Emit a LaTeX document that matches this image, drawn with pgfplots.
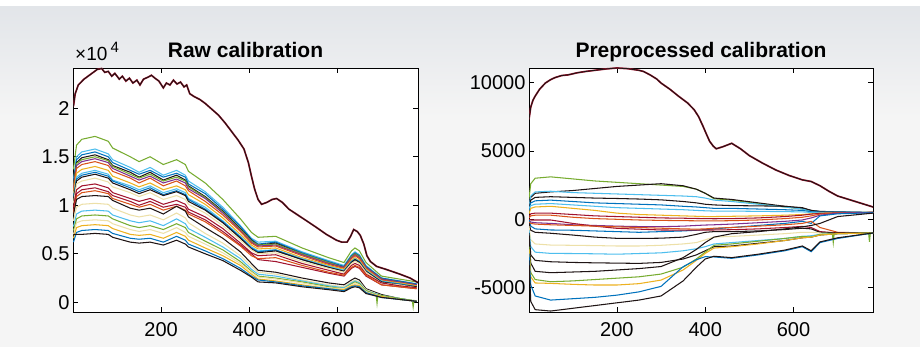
\documentclass[border=0pt]{standalone}
\usepackage{fontspec}
\setmainfont{Liberation Sans}
\usepackage{pgfplots}
\pgfplotsset{compat=1.18}
\definecolor{mb}{rgb}{0,0.447,0.741}
\definecolor{mo}{rgb}{0.85,0.325,0.098}
\definecolor{my}{rgb}{0.929,0.694,0.125}
\definecolor{mp}{rgb}{0.494,0.184,0.556}
\definecolor{mg}{rgb}{0.466,0.674,0.188}
\definecolor{mc}{rgb}{0.301,0.745,0.933}
\definecolor{mr}{rgb}{0.635,0.078,0.184}
\definecolor{dk}{rgb}{0.12,0.08,0.08}
\definecolor{bg}{rgb}{0.93,0.88,0.66}
\definecolor{bgA}{RGB}{226,229,233}
\definecolor{bgB}{RGB}{245,245,245}
\pgfplotsset{mstyle/.style={scale only axis, height=244pt, anchor=south west,
  axis background/.style={fill=white},
  tick label style={font=\fontsize{20}{22}\selectfont},
  major tick length=5pt, tick style={black, line width=0.6pt},
  axis line style={line width=0.9pt},
  xtick={200,400,600}, xticklabels={200,400,600},
  xticklabel style={yshift=-7pt},
  scaled y ticks=false, no markers,
  every axis plot/.append style={line width=1.05pt}}}
\begin{document}
\begin{tikzpicture}
\useasboundingbox (0,0) rectangle (920pt,347pt);
\fill[bgB] (0,0) rectangle (920pt,347pt);
\shade[top color=bgA, bottom color=bgB] (0,230pt) rectangle (920pt,341pt);
\fill[white] (0,341pt) rectangle (920pt,347pt);
\node[anchor=base, font=\fontsize{21}{23}\selectfont\bfseries] at (245.5pt,289pt) {Raw calibration};
\node[anchor=base, font=\fontsize{21}{23}\selectfont\bfseries] at (701pt,289pt) {Preprocessed calibration};
\node[anchor=base west, inner sep=0pt, font=\fontsize{19}{21}\selectfont] at (75pt,286pt) {×10\,\raisebox{8pt}{\fontsize{15}{16}\selectfont 4}};
\begin{axis}[mstyle, at={(73pt,35pt)}, width=345pt, xmin=0, xmax=783, ymin=-0.1, ymax=2.415,
  ytick={0,0.5,1,1.5,2}, yticklabels={0,0.5,1,1.5,2}]
\addplot[mg] coordinates {(1,1.37)(8,1.62)(20,1.68)(50,1.71)(80,1.66)(90,1.59)(130,1.50)(150,1.45)(175,1.50)(205,1.42)(235,1.47)(255,1.42)(262,1.35)(300,1.23)(340,1.06)(380,0.86)(405,0.72)(420,0.67)(460,0.68)(520,0.56)(580,0.46)(615,0.41)(632,0.53)(640,0.56)(650,0.53)(665,0.41)(700,0.27)(740,0.24)(780,0.21)};
\addplot[mc] coordinates {(1,1.26)(8,1.50)(20,1.55)(50,1.58)(80,1.53)(90,1.47)(130,1.39)(150,1.34)(175,1.39)(205,1.31)(235,1.36)(255,1.31)(262,1.25)(300,1.14)(340,0.98)(380,0.79)(405,0.66)(420,0.62)(460,0.63)(520,0.52)(580,0.43)(615,0.38)(632,0.49)(640,0.52)(650,0.49)(665,0.38)(700,0.25)(740,0.22)(780,0.19)};
\addplot[mb] coordinates {(1,1.24)(8,1.47)(20,1.52)(50,1.55)(80,1.50)(90,1.44)(130,1.36)(150,1.32)(175,1.36)(205,1.29)(235,1.33)(255,1.29)(262,1.22)(300,1.12)(340,0.96)(380,0.78)(405,0.65)(420,0.60)(460,0.62)(520,0.51)(580,0.42)(615,0.37)(632,0.48)(640,0.51)(650,0.48)(665,0.37)(700,0.25)(740,0.22)(780,0.19)};
\addplot[dk] coordinates {(1,1.22)(8,1.44)(20,1.49)(50,1.52)(80,1.47)(90,1.41)(130,1.34)(150,1.29)(175,1.34)(205,1.26)(235,1.31)(255,1.26)(262,1.20)(300,1.09)(340,0.94)(380,0.76)(405,0.64)(420,0.59)(460,0.61)(520,0.50)(580,0.41)(615,0.36)(632,0.47)(640,0.50)(650,0.47)(665,0.36)(700,0.24)(740,0.21)(780,0.18)};
\addplot[mg] coordinates {(1,1.20)(8,1.43)(20,1.47)(50,1.50)(80,1.46)(90,1.40)(130,1.32)(150,1.28)(175,1.32)(205,1.25)(235,1.29)(255,1.25)(262,1.19)(300,1.08)(340,0.93)(380,0.75)(405,0.63)(420,0.59)(460,0.60)(520,0.50)(580,0.41)(615,0.36)(632,0.47)(640,0.50)(650,0.47)(665,0.36)(700,0.24)(740,0.21)(780,0.18)};
\addplot[mp] coordinates {(1,1.18)(8,1.41)(20,1.45)(50,1.48)(80,1.44)(90,1.38)(130,1.30)(150,1.26)(175,1.30)(205,1.23)(235,1.27)(255,1.23)(262,1.17)(300,1.07)(340,0.92)(380,0.74)(405,0.62)(420,0.58)(460,0.59)(520,0.49)(580,0.40)(615,0.36)(632,0.46)(640,0.49)(650,0.46)(665,0.36)(700,0.24)(740,0.21)(780,0.18)};
\addplot[mo] coordinates {(1,1.16)(8,1.38)(20,1.42)(50,1.45)(80,1.41)(90,1.35)(130,1.28)(150,1.23)(175,1.28)(205,1.20)(235,1.25)(255,1.20)(262,1.15)(300,1.04)(340,0.90)(380,0.73)(405,0.61)(420,0.57)(460,0.58)(520,0.48)(580,0.39)(615,0.35)(632,0.45)(640,0.48)(650,0.45)(665,0.35)(700,0.23)(740,0.20)(780,0.17)};
\addplot[my] coordinates {(1,1.12)(8,1.33)(20,1.37)(50,1.40)(80,1.36)(90,1.30)(130,1.23)(150,1.19)(175,1.23)(205,1.16)(235,1.20)(255,1.16)(262,1.11)(300,1.01)(340,0.87)(380,0.70)(405,0.59)(420,0.55)(460,0.56)(520,0.46)(580,0.38)(615,0.34)(632,0.43)(640,0.46)(650,0.43)(665,0.34)(700,0.22)(740,0.20)(780,0.17)};
\addplot[mc] coordinates {(1,1.09)(8,1.29)(20,1.33)(50,1.36)(80,1.32)(90,1.26)(130,1.20)(150,1.16)(175,1.20)(205,1.13)(235,1.17)(255,1.13)(262,1.07)(300,0.98)(340,0.84)(380,0.68)(405,0.57)(420,0.53)(460,0.54)(520,0.45)(580,0.37)(615,0.33)(632,0.42)(640,0.45)(650,0.42)(665,0.33)(700,0.22)(740,0.19)(780,0.16)};
\addplot[mb] coordinates {(1,1.07)(8,1.27)(20,1.31)(50,1.34)(80,1.30)(90,1.25)(130,1.18)(150,1.14)(175,1.18)(205,1.11)(235,1.15)(255,1.11)(262,1.06)(300,0.96)(340,0.83)(380,0.67)(405,0.56)(420,0.52)(460,0.54)(520,0.44)(580,0.36)(615,0.32)(632,0.42)(640,0.44)(650,0.42)(665,0.32)(700,0.21)(740,0.19)(780,0.16)};
\addplot[dk] coordinates {(1,1.06)(8,1.25)(20,1.29)(50,1.32)(80,1.28)(90,1.23)(130,1.16)(150,1.12)(175,1.16)(205,1.10)(235,1.14)(255,1.10)(262,1.04)(300,0.95)(340,0.82)(380,0.66)(405,0.55)(420,0.51)(460,0.53)(520,0.44)(580,0.36)(615,0.32)(632,0.41)(640,0.44)(650,0.41)(665,0.32)(700,0.21)(740,0.18)(780,0.16)};
\addplot[bg] coordinates {(1,1.02)(8,1.22)(20,1.25)(50,1.28)(80,1.24)(90,1.19)(130,1.13)(150,1.09)(175,1.13)(205,1.06)(235,1.10)(255,1.06)(262,1.01)(300,0.92)(340,0.79)(380,0.64)(405,0.54)(420,0.50)(460,0.51)(520,0.42)(580,0.35)(615,0.31)(632,0.40)(640,0.42)(650,0.40)(665,0.31)(700,0.20)(740,0.18)(780,0.15)};
\addplot[mr] coordinates {(1,0.98)(8,1.16)(20,1.20)(50,1.22)(80,1.18)(90,1.13)(130,1.07)(150,1.04)(175,1.07)(205,1.01)(235,1.05)(255,1.01)(262,0.96)(300,0.88)(340,0.76)(380,0.61)(405,0.51)(420,0.48)(460,0.49)(520,0.40)(580,0.33)(615,0.29)(632,0.38)(640,0.40)(650,0.38)(665,0.29)(700,0.20)(740,0.17)(780,0.15)};
\addplot[mr] coordinates {(1,0.94)(8,1.12)(20,1.16)(50,1.18)(80,1.14)(90,1.10)(130,1.04)(150,1.00)(175,1.04)(205,0.98)(235,1.01)(255,0.98)(262,0.93)(300,0.85)(340,0.73)(380,0.59)(405,0.50)(420,0.44)(460,0.42)(520,0.36)(580,0.30)(615,0.27)(632,0.35)(640,0.37)(650,0.35)(665,0.27)(700,0.18)(740,0.16)(780,0.14)};
\addplot[mo] coordinates {(1,0.92)(8,1.09)(20,1.13)(50,1.15)(80,1.12)(90,1.07)(130,1.01)(150,0.98)(175,1.01)(205,0.95)(235,0.99)(255,0.95)(262,0.91)(300,0.83)(340,0.71)(380,0.58)(405,0.48)(420,0.45)(460,0.46)(520,0.38)(580,0.31)(615,0.28)(632,0.36)(640,0.38)(650,0.36)(665,0.28)(700,0.18)(740,0.16)(780,0.14)};
\addplot[dk] coordinates {(1,0.90)(8,1.06)(20,1.09)(50,1.10)(80,1.09)(90,1.05)(130,0.97)(150,0.95)(175,0.97)(205,0.91)(235,0.99)(255,0.94)(262,0.88)(300,0.77)(340,0.66)(380,0.52)(405,0.40)(420,0.33)(460,0.31)(520,0.25)(580,0.20)(615,0.18)(632,0.23)(640,0.25)(650,0.23)(665,0.14)(700,0.08)(740,0.04)(780,0.01)};
\addplot[bg] coordinates {(1,0.84)(8,0.98)(20,1.01)(50,1.02)(80,1.01)(90,0.97)(130,0.90)(150,0.88)(175,0.90)(205,0.85)(235,0.92)(255,0.87)(262,0.82)(300,0.71)(340,0.61)(380,0.48)(405,0.37)(420,0.31)(460,0.29)(520,0.23)(580,0.18)(615,0.16)(632,0.21)(640,0.23)(650,0.21)(665,0.13)(700,0.07)(740,0.04)(780,0.01)};
\addplot[mc] coordinates {(1,0.78)(8,0.91)(20,0.94)(50,0.95)(80,0.94)(90,0.90)(130,0.84)(150,0.82)(175,0.84)(205,0.79)(235,0.86)(255,0.81)(262,0.76)(300,0.67)(340,0.57)(380,0.45)(405,0.34)(420,0.29)(460,0.27)(520,0.22)(580,0.17)(615,0.15)(632,0.20)(640,0.22)(650,0.20)(665,0.12)(700,0.07)(740,0.04)(780,0.01)};
\addplot[mg] coordinates {(1,0.74)(8,0.86)(20,0.89)(50,0.90)(80,0.89)(90,0.86)(130,0.79)(150,0.77)(175,0.79)(205,0.75)(235,0.81)(255,0.77)(262,0.72)(300,0.63)(340,0.54)(380,0.42)(405,0.32)(420,0.27)(460,0.25)(520,0.21)(580,0.16)(615,0.14)(632,0.19)(640,0.21)(650,0.19)(665,0.12)(688,0.08)(690,-0.01)(692,0.08)(700,0.07)(740,0.04)(770,0.02)(772,-0.05)(774,0.02)(780,0.01)};
\addplot[bg] coordinates {(1,0.70)(8,0.82)(20,0.84)(50,0.85)(80,0.84)(90,0.81)(130,0.75)(150,0.73)(175,0.75)(205,0.71)(235,0.77)(255,0.72)(262,0.68)(300,0.60)(340,0.51)(380,0.40)(405,0.31)(420,0.26)(460,0.24)(520,0.20)(580,0.15)(615,0.14)(632,0.18)(640,0.20)(650,0.18)(665,0.11)(700,0.06)(740,0.03)(780,0.01)};
\addplot[my] coordinates {(1,0.66)(8,0.77)(20,0.79)(50,0.80)(80,0.79)(90,0.76)(130,0.70)(150,0.69)(175,0.70)(205,0.66)(235,0.72)(255,0.68)(262,0.64)(300,0.56)(340,0.48)(380,0.38)(405,0.29)(420,0.24)(460,0.22)(520,0.18)(580,0.14)(615,0.13)(632,0.17)(640,0.18)(650,0.17)(665,0.10)(700,0.06)(740,0.03)(780,0.01)};
\addplot[mb] coordinates {(1,0.62)(8,0.72)(20,0.74)(50,0.75)(80,0.74)(90,0.71)(130,0.66)(150,0.65)(175,0.66)(205,0.62)(235,0.68)(255,0.64)(262,0.60)(300,0.53)(340,0.45)(380,0.35)(405,0.27)(420,0.23)(460,0.21)(520,0.17)(580,0.14)(615,0.12)(632,0.16)(640,0.17)(650,0.16)(665,0.10)(700,0.05)(740,0.03)(780,0.01)};
\addplot[dk] coordinates {(1,0.70)(8,0.70)(20,0.70)(50,0.71)(80,0.70)(90,0.67)(130,0.62)(150,0.61)(175,0.62)(205,0.59)(235,0.64)(255,0.60)(262,0.57)(300,0.50)(340,0.43)(380,0.33)(405,0.26)(420,0.21)(460,0.20)(520,0.16)(580,0.13)(615,0.11)(632,0.15)(640,0.16)(650,0.15)(665,0.09)(700,0.05)(740,0.03)(780,0.01)};
\addplot[mr, line width=1.7pt] coordinates {(1,2.02)(5,2.15)(12,2.24)(25,2.30)(40,2.35)(55,2.40)(65,2.41)(72,2.37)(80,2.38)(88,2.33)(95,2.36)(105,2.30)(112,2.33)(120,2.28)(128,2.31)(136,2.26)(145,2.29)(152,2.24)(160,2.30)(170,2.32)(178,2.34)(186,2.31)(195,2.28)(205,2.21)(212,2.26)(220,2.24)(228,2.29)(236,2.25)(244,2.27)(252,2.22)(258,2.24)(265,2.15)(275,2.12)(288,2.09)(300,2.05)(315,1.99)(330,1.93)(345,1.85)(360,1.76)(375,1.67)(388,1.58)(398,1.44)(405,1.30)(412,1.17)(420,1.06)(428,1.01)(440,1.03)(452,1.06)(462,1.07)(475,1.03)(490,0.96)(510,0.90)(530,0.84)(553,0.77)(575,0.70)(598,0.64)(610,0.62)(622,0.62)(630,0.68)(637,0.75)(645,0.73)(652,0.69)(660,0.60)(667,0.48)(675,0.42)(689,0.37)(710,0.34)(742,0.29)(765,0.25)(784,0.20)};
\addplot[dk, line width=0.9pt] coordinates {(1,2.02)(5,2.15)(12,2.24)(25,2.30)(40,2.35)(55,2.40)(65,2.41)(72,2.37)(80,2.38)(88,2.33)(95,2.36)(105,2.30)(112,2.33)(120,2.28)(128,2.31)(136,2.26)(145,2.29)(152,2.24)(160,2.30)(170,2.32)(178,2.34)(186,2.31)(195,2.28)(205,2.21)(212,2.26)(220,2.24)(228,2.29)(236,2.25)(244,2.27)(252,2.22)(258,2.24)(265,2.15)(275,2.12)(288,2.09)(300,2.05)(315,1.99)(330,1.93)(345,1.85)(360,1.76)(375,1.67)(388,1.58)(398,1.44)(405,1.30)(412,1.17)(420,1.06)(428,1.01)(440,1.03)(452,1.06)(462,1.07)(475,1.03)(490,0.96)(510,0.90)(530,0.84)(553,0.77)(575,0.70)(598,0.64)(610,0.62)(622,0.62)(630,0.68)(637,0.75)(645,0.73)(652,0.69)(660,0.60)(667,0.48)(675,0.42)(689,0.37)(710,0.34)(742,0.29)(765,0.25)(784,0.20)};
\end{axis}
\begin{axis}[mstyle, at={(529pt,35pt)}, width=344pt, xmin=1, xmax=780, ymin=-6770, ymax=11050,
  ytick={-5000,0,5000,10000}, yticklabels={-5000,0,5000,10000}]
\addplot[mg] coordinates {(1,1500)(5,2600)(15,3000)(50,3100)(100,2950)(150,2800)(200,2700)(250,2600)(300,2500)(350,2400)(380,2200)(400,1900)(420,1500)(460,1400)(520,1150)(580,900)(620,750)(640,600)(660,550)(700,520)(780,500)};
\addplot[dk] coordinates {(1,1200)(5,1600)(15,1900)(50,2000)(100,2100)(150,2250)(200,2400)(250,2500)(300,2600)(350,2450)(380,2200)(400,1900)(420,1550)(460,1450)(520,1200)(580,950)(620,800)(640,650)(660,580)(700,540)(780,500)};
\addplot[mc] coordinates {(1,900)(5,1700)(15,2000)(50,2050)(100,1950)(150,1900)(200,1850)(250,1800)(300,1750)(350,1700)(380,1650)(400,1550)(420,1400)(460,1300)(520,1100)(580,900)(620,750)(640,620)(660,560)(700,520)(780,480)};
\addplot[dk] coordinates {(1,700)(5,1400)(15,1600)(50,1650)(100,1600)(150,1550)(200,1520)(250,1480)(300,1420)(350,1300)(380,1200)(400,1100)(420,1050)(460,1000)(520,980)(580,950)(620,850)(640,650)(660,560)(700,520)(780,480)};
\addplot[mb] coordinates {(1,600)(5,1200)(15,1350)(50,1400)(100,1300)(150,1200)(200,1150)(250,1100)(300,1050)(350,950)(380,900)(400,850)(420,800)(460,800)(520,750)(580,700)(620,650)(640,550)(660,530)(700,520)(780,500)};
\addplot[mc] coordinates {(1,800)(5,1000)(15,1100)(50,1150)(100,1050)(150,950)(200,850)(250,800)(300,750)(350,700)(380,650)(400,620)(420,600)(460,600)(520,580)(580,560)(620,540)(640,500)(660,500)(700,500)(780,500)};
\addplot[my] coordinates {(1,400)(5,800)(15,900)(50,950)(100,800)(150,650)(200,450)(250,350)(300,300)(350,250)(380,220)(400,200)(420,200)(460,220)(520,250)(580,300)(620,350)(640,400)(660,450)(700,480)(780,500)};
\addplot[mr] coordinates {(1,200)(5,400)(15,450)(50,450)(100,350)(150,250)(200,200)(250,150)(300,100)(350,80)(380,60)(400,50)(420,40)(460,50)(520,100)(580,200)(620,300)(640,380)(660,430)(700,470)(780,500)};
\addplot[mo] coordinates {(1,100)(5,250)(15,300)(50,300)(100,150)(150,50)(200,0)(250,-50)(300,-80)(350,-100)(380,-110)(400,-120)(420,-120)(460,-100)(520,-50)(580,50)(620,150)(640,250)(660,380)(700,460)(780,500)};
\addplot[mp] coordinates {(1,-100)(5,-200)(15,-250)(50,-300)(100,-400)(150,-450)(200,-500)(250,-530)(300,-540)(350,-500)(380,-450)(400,-420)(420,-400)(460,-350)(520,-250)(580,-150)(620,-50)(640,100)(660,300)(700,450)(780,500)};
\addplot[mb] coordinates {(1,0)(5,-500)(15,-700)(50,-780)(100,-800)(150,-850)(200,-900)(250,-950)(300,-900)(350,-850)(380,-800)(400,-750)(420,-700)(460,-600)(520,-450)(580,-300)(620,-150)(640,-300)(660,250)(700,400)(780,480)};
\addplot[mr] coordinates {(1,0)(5,-50)(15,-50)(50,-50)(100,-300)(150,-500)(200,-660)(250,-720)(300,-780)(350,-790)(380,-790)(400,-780)(420,-780)(460,-760)(520,-700)(580,-600)(620,-520)(640,-600)(660,-900)(700,-1000)(780,-1000)};
\addplot[mo] coordinates {(1,-200)(5,-300)(15,-350)(50,-400)(100,-450)(150,-500)(200,-550)(250,-600)(300,-650)(350,-700)(380,-720)(400,-700)(420,-650)(460,-600)(520,-500)(580,-400)(620,-300)(640,-150)(660,-600)(700,-950)(780,-1000)};
\addplot[dk] coordinates {(1,-300)(5,-800)(15,-950)(50,-1020)(100,-1150)(150,-1300)(200,-1390)(250,-1400)(300,-1380)(350,-1300)(380,-1100)(400,-950)(420,-900)(460,-900)(520,-850)(580,-750)(620,-650)(640,-700)(660,-950)(700,-1000)(780,-1000)};
\addplot[bg] coordinates {(1,-500)(5,-1500)(15,-1800)(50,-1880)(100,-1900)(150,-1920)(200,-1950)(250,-1950)(300,-1900)(350,-1800)(380,-1700)(400,-1500)(420,-1300)(460,-1250)(520,-1150)(580,-1050)(620,-950)(640,-950)(660,-1000)(700,-1050)(780,-1050)};
\addplot[mc] coordinates {(1,-800)(5,-2000)(15,-2400)(50,-2490)(100,-2500)(150,-2520)(200,-2550)(250,-2500)(300,-2450)(350,-2300)(380,-2150)(400,-2000)(420,-1800)(460,-1700)(520,-1550)(580,-1400)(620,-1250)(640,-1200)(660,-1100)(700,-1050)(780,-1000)};
\addplot[dk] coordinates {(1,-1000)(5,-2600)(15,-3000)(50,-3100)(100,-3150)(150,-3180)(200,-3200)(250,-3220)(300,-3150)(350,-2900)(380,-2600)(400,-2300)(420,-2000)(460,-1950)(520,-1750)(580,-1550)(620,-1350)(640,-1300)(660,-1150)(700,-1050)(780,-1000)};
\addplot[dk] coordinates {(1,-1500)(5,-3200)(15,-3800)(50,-3900)(100,-3850)(150,-3800)(200,-3700)(250,-3600)(300,-3450)(350,-2800)(380,-2200)(400,-1700)(420,-1300)(460,-1050)(520,-900)(580,-700)(620,-550)(640,-450)(660,-300)(700,200)(780,450)};
\addplot[mg] coordinates {(1,-2000)(5,-3900)(15,-4400)(50,-4560)(100,-4500)(150,-4400)(200,-4300)(250,-4200)(300,-4000)(350,-3500)(380,-2900)(400,-2400)(420,-1900)(460,-1800)(520,-1600)(580,-1400)(620,-1250)(640,-1300)(660,-1100)(688,-1060)(690,-1700)(692,-1060)(700,-1050)(770,-1000)(772,-1650)(774,-1000)(780,-1000)};
\addplot[my] coordinates {(1,-2200)(5,-4200)(15,-4650)(50,-4680)(100,-4750)(150,-4800)(200,-4800)(250,-4700)(300,-4440)(350,-3700)(380,-3000)(400,-2490)(420,-2100)(460,-2000)(520,-1800)(580,-1550)(620,-1350)(640,-1300)(660,-1150)(700,-1050)(780,-1000)};
\addplot[mb] coordinates {(1,-2500)(5,-4800)(15,-5600)(50,-5900)(100,-5800)(150,-5700)(200,-5540)(250,-5300)(300,-4900)(350,-3460)(380,-2950)(400,-2730)(420,-2750)(460,-2850)(520,-2600)(580,-2300)(620,-2000)(640,-2370)(660,-1700)(700,-1400)(780,-1000)};
\addplot[dk] coordinates {(1,-3000)(5,-6000)(15,-6600)(50,-6700)(100,-6500)(150,-6300)(200,-6100)(250,-5900)(300,-5600)(350,-4500)(380,-3500)(400,-2900)(420,-2700)(460,-2800)(520,-2550)(580,-2250)(620,-1950)(640,-2300)(660,-1650)(700,-1350)(780,-1000)};
\addplot[mr, line width=1.7pt] coordinates {(1,7300)(5,8200)(10,8700)(15,9000)(25,9500)(38,9950)(50,10200)(60,10350)(75,10500)(90,10550)(110,10700)(130,10800)(150,10880)(175,10980)(200,11050)(225,11000)(250,10880)(260,10800)(275,10550)(290,10250)(300,9950)(320,9500)(340,8980)(360,8500)(375,8000)(385,7500)(395,6800)(403,6200)(410,5700)(418,5350)(425,5150)(440,5300)(460,5550)(480,5150)(500,4650)(530,4100)(560,3600)(590,3200)(620,2880)(640,2760)(660,2450)(680,2050)(700,1700)(740,1300)(780,900)};
\addplot[dk, line width=0.9pt] coordinates {(1,7300)(5,8200)(10,8700)(15,9000)(25,9500)(38,9950)(50,10200)(60,10350)(75,10500)(90,10550)(110,10700)(130,10800)(150,10880)(175,10980)(200,11050)(225,11000)(250,10880)(260,10800)(275,10550)(290,10250)(300,9950)(320,9500)(340,8980)(360,8500)(375,8000)(385,7500)(395,6800)(403,6200)(410,5700)(418,5350)(425,5150)(440,5300)(460,5550)(480,5150)(500,4650)(530,4100)(560,3600)(590,3200)(620,2880)(640,2760)(660,2450)(680,2050)(700,1700)(740,1300)(780,900)};
\end{axis}
\end{tikzpicture}
\end{document}
